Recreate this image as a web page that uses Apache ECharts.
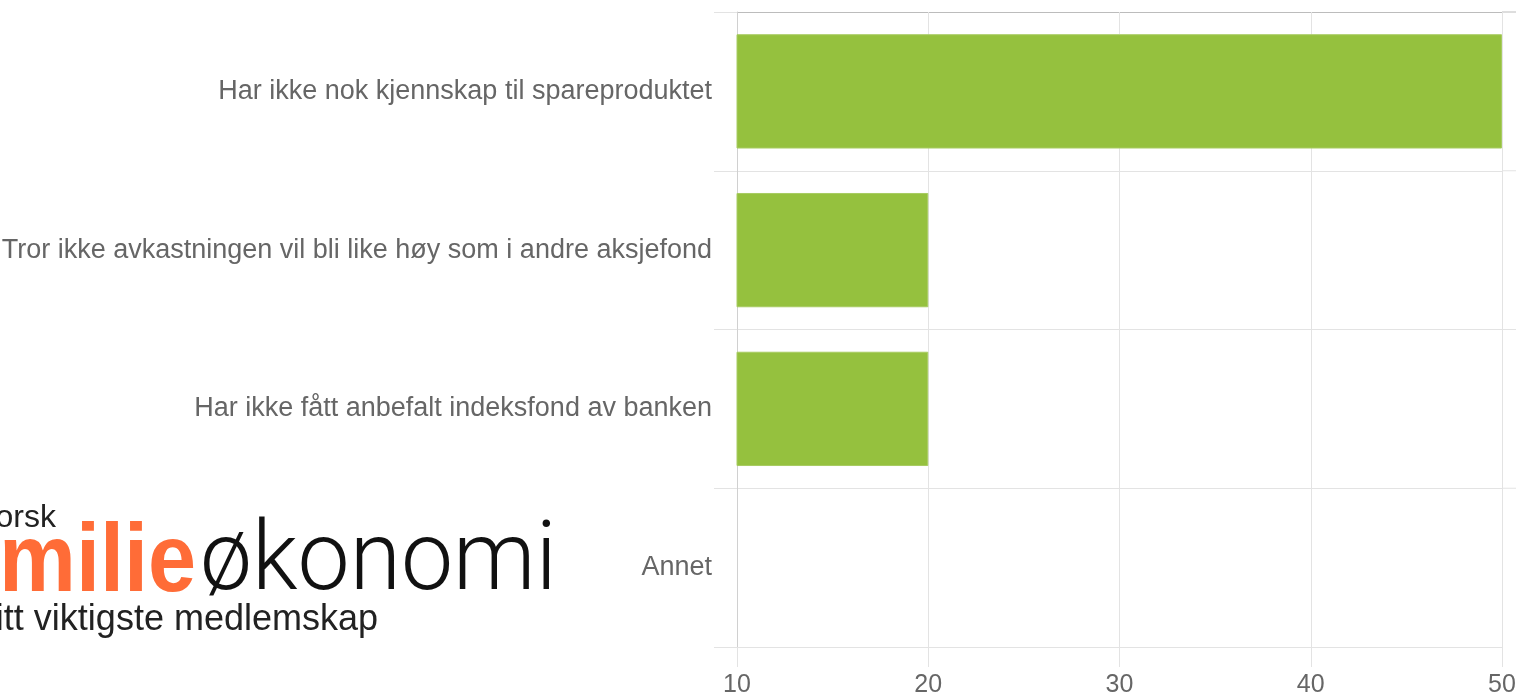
<!DOCTYPE html>
<html>
<head>
<meta charset="utf-8">
<script src="https://cdn.jsdelivr.net/npm/echarts@6/dist/echarts.min.js"></script>
<style>
  html, body { margin: 0; padding: 0; background: #fff; }
  #view { width: 1516px; height: 694px; }
</style>
</head>
<body>
<div id="view"></div>
<script>
var myCharts = echarts.init(document.getElementById("view"));

/* 数据 */
var categories = [
    'Har ikke nok kjennskap til spareproduktet',
    'Tror ikke avkastningen vil bli like høy som i andre aksjefond',
    'Har ikke fått anbefalt indeksfond av banken',
    'Annet'
];
var values = [50, 20, 20, 10];
var xTicks = [10, 20, 30, 40, 50];

var gridColor = '#e3e3e3';
var labelColor = '#666';
var gridTop = 12, gridBottom = 47, gridLeft = 737, gridRight = 14;

/* 横线在右侧多出一点（装饰） */
var extLines = [];
var plotH = 694 - gridTop - gridBottom;
for (var i = 0; i < categories.length; i++) {
    var yy = gridTop + plotH * i / categories.length;
    extLines.push({
        type: 'line', silent: true,
        shape: { x1: 1516 - gridRight, y1: yy, x2: 1516, y2: yy },
        style: { stroke: i === 0 ? '#bcbcbc' : gridColor, lineWidth: 1 }
    });
}

option = {
    animation: false,
    grid: {
        left: gridLeft, right: gridRight, top: gridTop, bottom: gridBottom,
        outerBoundsMode: 'none'
    },
    xAxis: {
        type: 'value',
        min: xTicks[0],
        max: xTicks[xTicks.length - 1],
        interval: 10,
        axisLine: { show: true, lineStyle: { color: gridColor } },
        axisTick: { show: true, length: 20, lineStyle: { color: gridColor } },
        splitLine: { show: true, lineStyle: { color: gridColor } },
        axisLabel: {
            color: labelColor,
            fontSize: 25,
            fontFamily: 'Liberation Sans, Arial, sans-serif',
            margin: 26
        }
    },
    yAxis: {
        type: 'category',
        inverse: true,
        data: categories,
        axisLine: { show: true, lineStyle: { color: '#d0d0d0' } },
        axisTick: { show: true, length: 23, lineStyle: { color: gridColor } },
        splitLine: { show: true, lineStyle: { color: ['#bcbcbc', gridColor, gridColor, gridColor, gridColor] } },
        axisLabel: {
            color: labelColor,
            fontSize: 27,
            fontFamily: 'Liberation Sans, Arial, sans-serif',
            margin: 25
        }
    },
    series: [{
        type: 'bar',
        data: values,
        barCategoryGap: '28%',
        itemStyle: {
            color: '#95c13e',
            borderColor: '#a8cc62',
            borderWidth: 1
        }
    }],
    /* 左下角的标志 */
    graphic: extLines.concat([
        {
            type: 'text', x: 56, y: 518,
            style: { text: 'Norsk', textAlign: 'right', textVerticalAlign: 'middle',
                fontSize: 32, fontFamily: 'Liberation Sans, Arial', fill: '#222' }
        },
        {
            type: 'text', x: 196, y: 565, scaleX: 0.9,
            style: { text: 'Familie', textAlign: 'right', textVerticalAlign: 'middle',
                fontSize: 96, fontWeight: 'bold', fontFamily: 'Liberation Sans, Arial', fill: '#ff6c37' }
        },
        {
            type: 'text', x: 200, y: 565, scaleX: 0.97,
            style: { text: 'økonomi', textAlign: 'left', textVerticalAlign: 'middle',
                fontSize: 96, fontWeight: 300, fontFamily: 'Roboto, Liberation Sans, Arial', fill: '#111' }
        },
        {
            type: 'text', x: 378, y: 620,
            style: { text: 'Ditt viktigste medlemskap', textAlign: 'right', textVerticalAlign: 'middle',
                fontSize: 36, fontFamily: 'Liberation Sans, Arial', fill: '#222' }
        }
    ])
};

myCharts.setOption(option);
</script>
</body>
</html>
